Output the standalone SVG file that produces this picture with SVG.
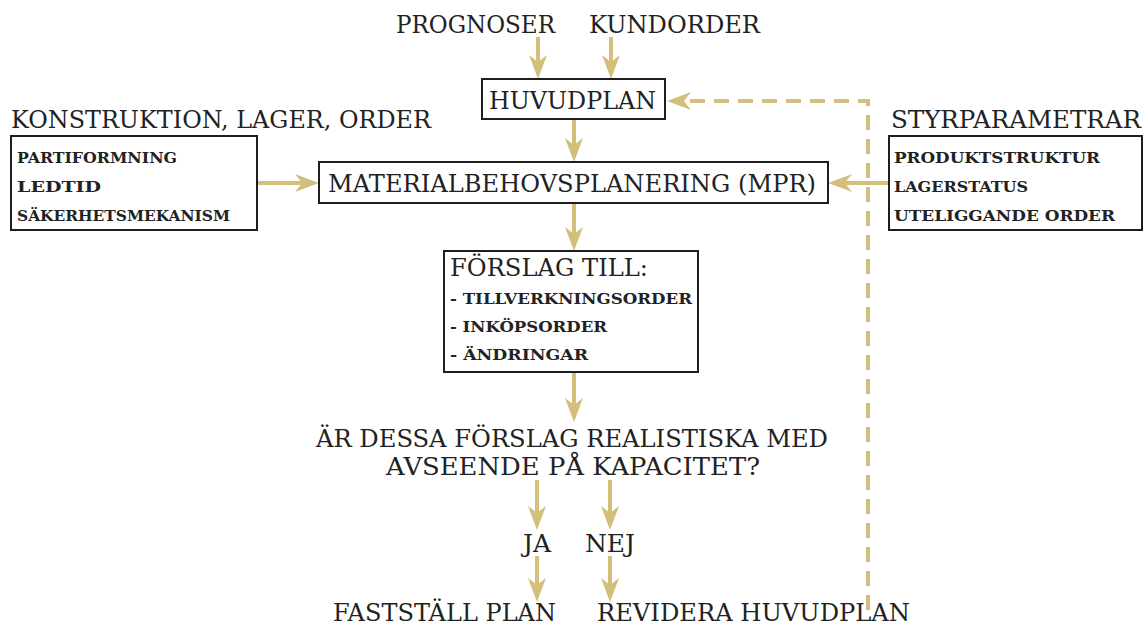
<svg xmlns="http://www.w3.org/2000/svg" width="1145" height="628" viewBox="0 0 1145 628">
<style>
.bg{fill:#ffffff}
.box{fill:#ffffff;stroke:#1e1e1e;stroke-width:2}
.t{font-family:"DejaVu Serif","Liberation Serif",serif;font-size:25px;fill:#222222}
.s{font-family:"DejaVu Serif","Liberation Serif",serif;font-size:14px;font-weight:bold;fill:#222222}
.c{fill:none;stroke:#D4BE7C;stroke-width:4}
.d{fill:none;stroke:#D4BE7C;stroke-width:4;stroke-dasharray:15 9}
</style>
<defs>
<marker id="ah" markerUnits="userSpaceOnUse" viewBox="0 0 24 20" refX="12" refY="10" markerWidth="24" markerHeight="20" orient="auto">
<path d="M0,1 L24,10 L0,19 L7,10 Z" fill="#D4BE7C"/>
</marker>
</defs>
<rect class="bg" x="0" y="0" width="1145" height="628"/>

<g id="connectors">
<line class="c" x1="538" y1="37" x2="538" y2="67" marker-end="url(#ah)"/>
<line class="c" x1="611" y1="37" x2="611" y2="67" marker-end="url(#ah)"/>
<line class="c" x1="574" y1="120" x2="574" y2="150" marker-end="url(#ah)"/>
<line class="c" x1="258" y1="183" x2="307" y2="183" marker-end="url(#ah)"/>
<line class="c" x1="888" y1="183" x2="840" y2="183" marker-end="url(#ah)"/>
<line class="c" x1="574" y1="204" x2="574" y2="239" marker-end="url(#ah)"/>
<line class="c" x1="574" y1="373" x2="574" y2="410" marker-end="url(#ah)"/>
<line class="c" x1="537" y1="480" x2="537" y2="518" marker-end="url(#ah)"/>
<line class="c" x1="610" y1="480" x2="610" y2="518" marker-end="url(#ah)"/>
<line class="c" x1="537" y1="556" x2="537" y2="590" marker-end="url(#ah)"/>
<line class="c" x1="610" y1="556" x2="610" y2="590" marker-end="url(#ah)"/>
<path class="d" d="M868,610 L868,101 L679,101" marker-end="url(#ah)"/>
</g>

<g id="prognoser">
<text class="t" x="396" y="33" textLength="159" lengthAdjust="spacingAndGlyphs">PROGNOSER</text>
</g>
<g id="kundorder">
<text class="t" x="589" y="33" textLength="171" lengthAdjust="spacingAndGlyphs">KUNDORDER</text>
</g>
<g id="huvudplan">
<rect class="box" x="482" y="79" width="183" height="40"/>
<text class="t" x="489" y="109" textLength="167" lengthAdjust="spacingAndGlyphs">HUVUDPLAN</text>
</g>
<g id="konstruktion">
<text class="t" x="11" y="128" textLength="420" lengthAdjust="spacingAndGlyphs">KONSTRUKTION, LAGER, ORDER</text>
<rect class="box" x="11" y="136" width="246" height="94"/>
<text class="s" x="17" y="163" textLength="160" lengthAdjust="spacingAndGlyphs">PARTIFORMNING</text>
<text class="s" x="17" y="192" textLength="84" lengthAdjust="spacingAndGlyphs">LEDTID</text>
<text class="s" x="17" y="221" textLength="213" lengthAdjust="spacingAndGlyphs">SÄKERHETSMEKANISM</text>
</g>
<g id="mpr">
<rect class="box" x="319" y="162" width="509" height="41"/>
<text class="t" x="328" y="192" textLength="488" lengthAdjust="spacingAndGlyphs">MATERIALBEHOVSPLANERING (MPR)</text>
</g>
<g id="styrparametrar">
<text class="t" x="891" y="128" textLength="250" lengthAdjust="spacingAndGlyphs">STYRPARAMETRAR</text>
<rect class="box" x="889" y="136" width="253" height="94"/>
<text class="s" x="894" y="163" textLength="206" lengthAdjust="spacingAndGlyphs">PRODUKTSTRUKTUR</text>
<text class="s" x="894" y="192" textLength="134" lengthAdjust="spacingAndGlyphs">LAGERSTATUS</text>
<text class="s" x="894" y="221" textLength="221" lengthAdjust="spacingAndGlyphs">UTELIGGANDE ORDER</text>
</g>
<g id="forslag">
<rect class="box" x="444" y="251" width="254" height="121"/>
<text class="t" x="450" y="276" textLength="198" lengthAdjust="spacingAndGlyphs">FÖRSLAG TILL:</text>
<text class="s" x="450" y="304" textLength="242" lengthAdjust="spacingAndGlyphs">- TILLVERKNINGSORDER</text>
<text class="s" x="450" y="332" textLength="157" lengthAdjust="spacingAndGlyphs">- INKÖPSORDER</text>
<text class="s" x="450" y="360" textLength="138" lengthAdjust="spacingAndGlyphs">- ÄNDRINGAR</text>
</g>
<g id="fraga">
<text class="t" x="316" y="447" textLength="512" lengthAdjust="spacingAndGlyphs">ÄR DESSA FÖRSLAG REALISTISKA MED</text>
<text class="t" x="386" y="475" textLength="374" lengthAdjust="spacingAndGlyphs">AVSEENDE PÅ KAPACITET?</text>
</g>
<g id="ja">
<text class="t" x="537" y="552" text-anchor="middle">JA</text>
</g>
<g id="nej">
<text class="t" x="610" y="552" text-anchor="middle">NEJ</text>
</g>
<g id="faststall">
<text class="t" x="333" y="621" textLength="223" lengthAdjust="spacingAndGlyphs">FASTSTÄLL PLAN</text>
</g>
<g id="revidera">
<text class="t" x="597" y="621" textLength="313" lengthAdjust="spacingAndGlyphs">REVIDERA HUVUDPLAN</text>
</g>
</svg>
